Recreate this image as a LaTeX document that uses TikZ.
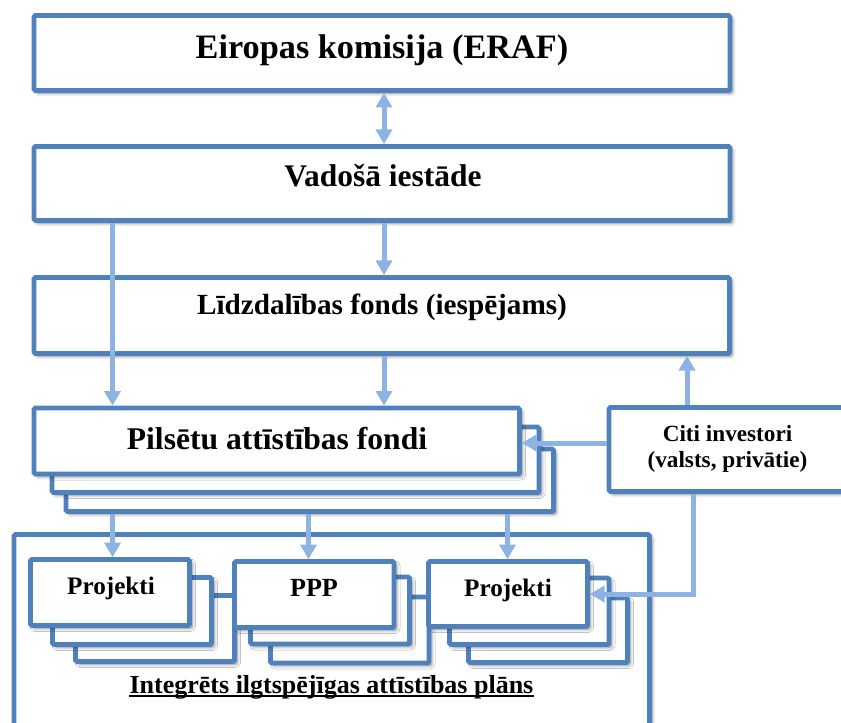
\documentclass[tikz,border=0pt]{standalone}
\usepackage{fontspec}
\setmainfont{Liberation Serif}
\usetikzlibrary{arrows.meta,fit,shadows.blur,calc}
\definecolor{bdr}{HTML}{4F81BD}
\definecolor{arw}{HTML}{8DB3E2}
\newcommand\fsz[1]{\fontsize{#1}{#1}\selectfont}
\tikzset{
  tri/.tip={Triangle[width=12pt,length=11pt]},
  box/.style={rectangle, draw=bdr, line width=3.5pt, fill=white, inner sep=0pt,
    rounded corners=1pt,
    blur shadow={shadow xshift=2pt, shadow yshift=-2pt, shadow blur radius=2.5pt, shadow opacity=50}},
  lbl/.style={inner sep=0pt, anchor=base, text=black},
  arr/.style={draw=arw, line width=3.75pt, -tri},
  arrboth/.style={draw=arw, line width=3.75pt, tri-tri},
}
\begin{document}
\begin{tikzpicture}[x=0.75pt,y=-0.75pt]
\useasboundingbox (0,0) rectangle (841,723);
\clip (0,0) rectangle (841,723);

% top boxes
\node[box, fit={(34,15.5)(730,90.5)}] (ek) {};
\node[lbl, font=\bfseries\fsz{25.7}] (ekt) at (382,59) {Eiropas komisija (ERAF)};
\node[box, fit={(34,146.5)(730,220.5)}] (vi) {};
\node[lbl, font=\bfseries\fsz{23.6}] (vit) at (383,187) {Vadošā iestāde};
\node[box, fit={(34,277.5)(729.5,353.5)}] (lf) {};
\node[lbl, font=\bfseries\fsz{21.9}] (lft) at (382,315) {Līdzdalības fonds (iespējams)};

% Pilsetu stack
\node[box, fit={(66,449)(553.5,511.5)}] (pf3) {};
\node[box, fit={(52,427)(539,492.5)}] (pf2) {};
\node[box, fit={(34,408)(519.5,474)}] (pf) {};
\node[lbl, font=\bfseries\fsz{23.7}] (pft) at (277,449.3) {Pilsētu attīstības fondi};

% Citi investori
\node[box, fit={(609,407.5)(846,491.5)}] (ci) {};
\node[lbl, font=\bfseries\fsz{17.4}] (cit1) at (727.5,441.7) {Citi investori};
\node[lbl, font=\bfseries\fsz{17.4}] (cit2) at (727.5,467.7) {(valsts, privātie)};

% frame
\node[box, fit={(14,534.5)(649.5,745)}] (ip) {};
\node[lbl, font=\bfseries\fsz{19.5}] (ipt) at (331.5,693) {Integrēts ilgtspējīgas attīstības plāns};
\draw[line width=1.5pt] ([yshift=-2.6pt]ipt.base west) -- ([yshift=-2.6pt]ipt.base east);

% group 1
\node[box, fit={(75.5,595.5)(234.5,661.5)}] (p1c) {};
\node[box, fit={(52.5,577.5)(211.5,644.5)}] (p1b) {};
\node[box, fit={(30.5,559.5)(189.5,625.5)}] (p1) {};
\node[lbl, font=\bfseries\fsz{18.9}] (p1t) at (111,594) {Projekti};
% group 2
\node[box, fit={(270.5,597)(429,663)}] (p2c) {};
\node[box, fit={(250.5,577)(409.5,644)}] (p2b) {};
\node[box, fit={(234.5,561.5)(394,627.5)}] (p2) {};
\node[lbl, font=\bfseries\fsz{19.6}] (p2t) at (314,596.7) {PPP};
% group 3
\node[box, fit={(468.5,598)(627.5,662.5)}] (p3c) {};
\node[box, fit={(449.5,578)(609,644.5)}] (p3b) {};
\node[box, fit={(428.5,561.5)(587.5,626.5)}] (p3) {};
\node[lbl, font=\bfseries\fsz{18.9}] (p3t) at (508,596.5) {Projekti};

% connector guides
\coordinate (xa) at (384,0);
\coordinate (xb) at (112.5,0);
\coordinate (xc) at (687,0);
\coordinate (xe) at (693,0);
\coordinate (yd) at (0,443);
\coordinate (x2) at (308.5,0);
\coordinate (x3) at (507.5,0);

% connectors
\draw[arrboth] (ek.south -| xa) -- (vi.north -| xa);
\draw[arr] (vi.south -| xb) -- (pf.north -| xb);
\draw[arr] (vi.south -| xa) -- (lf.north -| xa);
\draw[arr] (lf.south -| xa) -- (pf.north -| xa);
\draw[arr] (ci.north -| xc) -- (lf.south -| xc);
\draw[arr] (ci.west |- yd) -- (pf.east |- yd);
\draw[arr] (ci.south -| xe) |- (p3.east);
\draw[arr] (pf3.south -| xb) -- (p1.north -| xb);
\draw[arr] (pf3.south -| x2) -- (p2.north -| x2);
\draw[arr] (pf3.south -| x3) -- (p3.north -| x3);
\end{tikzpicture}
\end{document}
